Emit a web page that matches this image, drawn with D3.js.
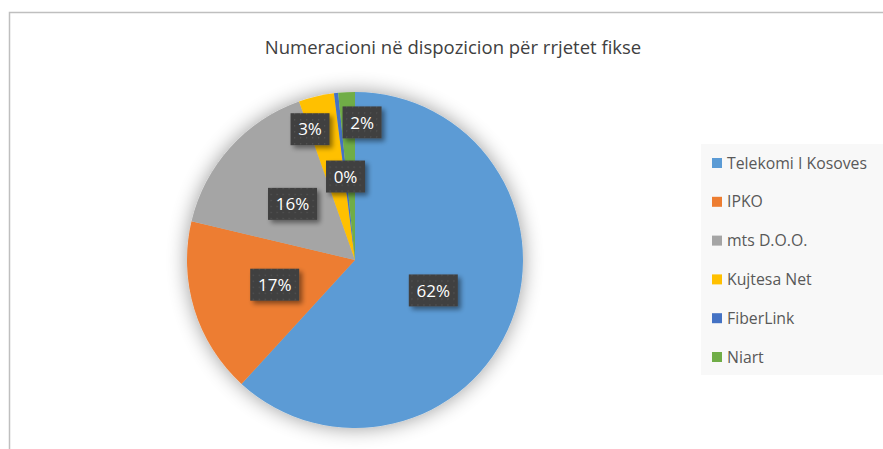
<!DOCTYPE html>
<html>
<head>
<meta charset="utf-8">
<script src="https://cdn.jsdelivr.net/npm/d3@7"></script>
<style>
  html, body { margin: 0; padding: 0; background: #fff; }
  svg { display: block; }
</style>
</head>
<body>
<svg id="chart" width="883" height="449"></svg>
<script>
const title = 'Numeracioni në dispozicion për rrjetet fikse';
const operators = ['Telekomi I Kosoves', 'IPKO', 'mts D.O.O.', 'Kujtesa Net', 'FiberLink', 'Niart'];
const shares = [61.8, 16.9, 15.9, 3.4, 0.4, 1.6];
const labels = ['62%', '17%', '16%', '3%', '0%', '2%'];
const colors = ['#5B9BD5', '#ED7D31', '#A5A5A5', '#FFC000', '#4472C4', '#70AD47'];

const W = 883, H = 449;
const cx = 355, cy = 260, R = 168;
const font = 'Open Sans, Noto Sans, sans-serif';

const svg = d3.select('#chart');
const defs = svg.append('defs');

// soft glow around pie
const glow = defs.append('filter').attr('id', 'glow')
  .attr('x', '-30%').attr('y', '-30%').attr('width', '160%').attr('height', '160%');
glow.append('feGaussianBlur').attr('in', 'SourceAlpha').attr('stdDeviation', 10).attr('result', 'b');
glow.append('feComponentTransfer').attr('in', 'b').attr('result', 'c')
  .append('feFuncA').attr('type', 'linear').attr('slope', 0.4);
const gm = glow.append('feMerge');
gm.append('feMergeNode').attr('in', 'c');
gm.append('feMergeNode').attr('in', 'SourceGraphic');

// label box shadow
const ls = defs.append('filter').attr('id', 'lshadow')
  .attr('x', '-30%').attr('y', '-30%').attr('width', '170%').attr('height', '180%');
ls.append('feGaussianBlur').attr('in', 'SourceAlpha').attr('stdDeviation', 2.5).attr('result', 'b');
ls.append('feOffset').attr('in', 'b').attr('dx', 3).attr('dy', 3).attr('result', 'o');
ls.append('feComponentTransfer').attr('in', 'o').attr('result', 'c')
  .append('feFuncA').attr('type', 'linear').attr('slope', 0.45);
const lm = ls.append('feMerge');
lm.append('feMergeNode').attr('in', 'c');
lm.append('feMergeNode').attr('in', 'SourceGraphic');

// dotted texture for label boxes
const pat = defs.append('pattern').attr('id', 'dots')
  .attr('width', 6).attr('height', 6).attr('patternUnits', 'userSpaceOnUse');
pat.append('rect').attr('width', 6).attr('height', 6).attr('fill', '#404040');
pat.append('rect').attr('x', 2).attr('y', 2).attr('width', 1.2).attr('height', 1.2).attr('fill', '#575757');

// chart frame
svg.append('rect')
  .attr('x', 9.5).attr('y', 12.5).attr('width', W + 20).attr('height', H + 20)
  .attr('fill', '#fff').attr('stroke', '#bfbfbf').attr('stroke-width', 1.5);

svg.append('text')
  .attr('x', 453).attr('y', 54)
  .attr('text-anchor', 'middle')
  .attr('font-family', font).attr('font-size', 18.5)
  .attr('fill', '#404040')
  .text(title);

const pie = d3.pie().sort(null).value(d => d)(shares);
const arc = d3.arc().innerRadius(0).outerRadius(R);

const g = svg.append('g').attr('transform', `translate(${cx},${cy})`);
g.append('g').attr('filter', 'url(#glow)')
  .selectAll('path').data(pie).join('path')
  .attr('d', arc)
  .attr('fill', (d, i) => colors[i]);

// label radius: centroid for big slices, pushed out for thin ones
const labelR = [0.5, 0.5, 0.5, 0.8, 0.5, 0.82];
const labelDx = [0, 0, 0, -14, 0, 14];
const bw = 49, bh = 32;
const lg = g.selectAll('g.lbl').data(pie).join('g')
  .attr('class', 'lbl')
  .attr('transform', (d, i) => {
    const a = (d.startAngle + d.endAngle) / 2;
    const r = R * labelR[i];
    return `translate(${Math.sin(a) * r + labelDx[i]},${-Math.cos(a) * r})`;
  });
lg.append('rect')
  .attr('x', (d, i) => -(labels[i].length > 2 ? bw : 39) / 2)
  .attr('y', -bh / 2)
  .attr('width', (d, i) => labels[i].length > 2 ? bw : 39)
  .attr('height', bh)
  .attr('fill', 'url(#dots)')
  .attr('filter', 'url(#lshadow)');
lg.append('text')
  .attr('text-anchor', 'middle')
  .attr('dy', '0.36em')
  .attr('font-family', font).attr('font-size', 17)
  .attr('fill', '#fff')
  .text((d, i) => labels[i]);

// legend
const legend = svg.append('g');
legend.append('rect')
  .attr('x', 701).attr('y', 144).attr('width', 200).attr('height', 231)
  .attr('fill', '#f8f8f8');
const ly = d3.scalePoint().domain(operators).range([163, 357]);
const items = legend.selectAll('g.item').data(operators).join('g')
  .attr('class', 'item')
  .attr('transform', d => `translate(712,${ly(d)})`);
items.append('rect')
  .attr('x', 0).attr('y', -5).attr('width', 10).attr('height', 10)
  .attr('fill', (d, i) => colors[i]);
items.append('text')
  .attr('x', 15).attr('dy', '0.35em')
  .attr('font-family', font).attr('font-size', 15.8)
  .attr('fill', '#595959')
  .text(d => d);
</script>
</body>
</html>
